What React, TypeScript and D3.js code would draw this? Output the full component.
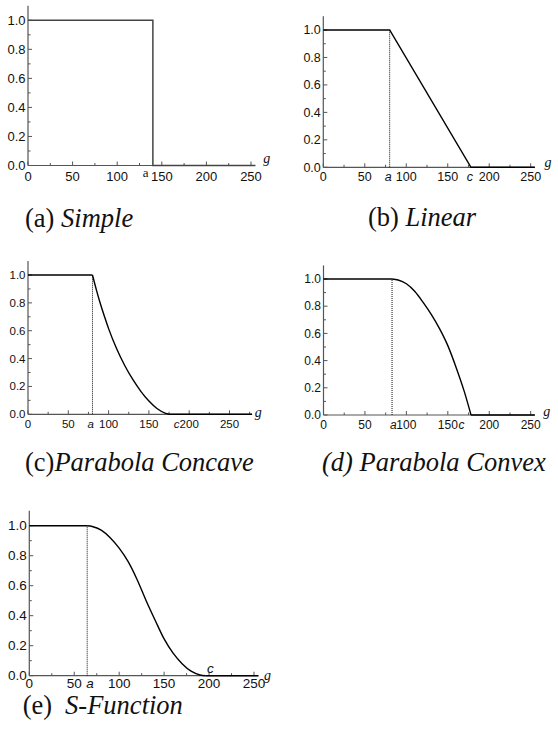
import React from "react";
import * as d3 from "d3";

// ---------- data ----------
const xTickValues = [0, 50, 100, 150, 200, 250];
const xMinorValues = [25, 75, 125, 175, 225, 275];
const yTickValues = [0, 0.2, 0.4, 0.6, 0.8, 1.0];
const yMinorValues = [0.1, 0.3, 0.5, 0.7, 0.9];

const captionLetters = ["(a)", "(b)", "(c)", "(d)", "(e)"];
const captionNames = ["Simple", "Linear", "Parabola Concave", "Parabola Convex", "S-Function"];

// (a) Simple
const simpleG = [0, 140, 140, 255];
const simpleMu = [1, 1, 0, 0];
// (b) Linear
const linearG = [0, 80, 178, 255];
const linearMu = [1, 1, 0, 0];
// (c) Parabola concave
const concaveG = [0, 80, 85, 90, 95, 100, 110, 120, 130, 140, 150, 160, 170, 175, 278];
const concaveMu = [1, 1, 0.89, 0.79, 0.7, 0.615, 0.47, 0.35, 0.25, 0.165, 0.095, 0.042, 0.009, 0, 0];
// (d) Parabola convex
const convexG = [0, 82.7, 90, 100, 110, 120, 130, 140, 150, 160, 170, 178, 255];
const convexMu = [1, 1, 0.993, 0.965, 0.91, 0.83, 0.74, 0.635, 0.51, 0.35, 0.17, 0, 0];
// (e) S-function
const sG = [0, 64.4, 70, 80, 90, 100, 110, 120, 130, 140, 150, 160, 170, 180, 190, 196, 255];
const sMu = [1, 1, 0.995, 0.97, 0.92, 0.85, 0.76, 0.64, 0.5, 0.37, 0.245, 0.15, 0.08, 0.03, 0.005, 0, 0];

// parameter a (dotted line) and label positions for the a / c marks on the g axis
const paramA = [140, 80, 80, 82.7, 64.4];
const labelA = [132, 78.4, 77.8, 84.3, 67.5];
const labelC = [null, 176.8, 184.5, 166.5, 201.6];

const seriesG = [simpleG, linearG, concaveG, convexG, sG];
const seriesMu = [simpleMu, linearMu, concaveMu, convexMu, sMu];

// ---------- layout ----------
const layouts = [
  { x0: 28, x250: 251, xMax: 254.5, y0: 165.5, y1: 20.3, fs: 13, lblOff: 15.5, gx: 266.7, gy: 163, capX: 25, capY: 227, dotted: false, curve: "linear", aSerif: true, cAbove: false },
  { x0: 323.3, x250: 530.7, xMax: 255, y0: 167.3, y1: 30, fs: 12.5, lblOff: 14, gx: 548, gy: 167, capX: 368, capY: 226, dotted: true, curve: "linear", aSerif: false, cAbove: false },
  { x0: 28, x250: 229.5, xMax: 278, y0: 414.3, y1: 275, fs: 11.5, lblOff: 13.2, gx: 258.3, gy: 417, capX: 25, capY: 471, dotted: true, curve: "smooth", aSerif: false, cAbove: false },
  { x0: 323.5, x250: 530.7, xMax: 255, y0: 415, y1: 279, fs: 12, lblOff: 14.2, gx: 546.7, gy: 416, capX: 322, capY: 471, dotted: true, curve: "smooth", aSerif: false, cAbove: false, capAllItalic: true },
  { x0: 29.3, x250: 254, xMax: 254.6, y0: 675.7, y1: 525.7, fs: 13.5, lblOff: 12.3, gx: 267.5, gy: 680, capX: 22.7, capY: 714, dotted: true, curve: "smooth", aSerif: false, cAbove: true, capDoubleSpace: true },
];

const SANS = "'Liberation Sans', Arial, Helvetica, sans-serif";
const SERIF = "'Liberation Serif', 'Times New Roman', Times, serif";
const AXIS = "#555";

function Panel({ i }: { i: number }) {
  const L = layouts[i];
  const x = d3.scaleLinear().domain([0, 250]).range([L.x0, L.x250]);
  const y = d3.scaleLinear().domain([0, 1]).range([L.y0, L.y1]);
  const G = seriesG[i];
  const M = seriesMu[i];
  const pts: [number, number][] = G.map((g, k) => [g, M[k]]);

  const paths: string[] = [];
  if (L.curve === "linear") {
    const line = d3.line<[number, number]>().x((d) => x(d[0])).y((d) => y(d[1]));
    paths.push(line(pts) as string);
  } else {
    const line = d3
      .line<[number, number]>()
      .x((d) => x(d[0]))
      .y((d) => y(d[1]))
      .curve(d3.curveMonotoneX);
    const first = pts.findIndex((d) => d[1] < 1) - 1;
    let last = -1;
    pts.forEach((d, k) => {
      if (d[1] > 0) last = k;
    });
    last = last + 1;
    paths.push(line(pts.slice(0, first + 1)) as string);
    paths.push(line(pts.slice(first, last + 1)) as string);
    paths.push(line(pts.slice(last)) as string);
  }

  const labelY = L.y0 + L.lblOff;
  const cap = captionLetters[i];
  const name = captionNames[i];
  const fs = L.fs;

  return (
    <g>
      {/* axes */}
      <line x1={x(0)} x2={x(0)} y1={y(0)} y2={y(1.1)} stroke={AXIS} strokeWidth={1.2} />
      <line x1={x(0)} x2={x(L.xMax)} y1={y(0)} y2={y(0)} stroke={AXIS} strokeWidth={1.2} />
      {/* x ticks */}
      {xTickValues.map((t) => (
        <line key={"xt" + t} x1={x(t)} x2={x(t)} y1={y(0)} y2={y(0) - 4} stroke={AXIS} strokeWidth={1} />
      ))}
      {xMinorValues
        .filter((t) => t <= L.xMax)
        .map((t) => (
          <line key={"xm" + t} x1={x(t)} x2={x(t)} y1={y(0)} y2={y(0) - 2.5} stroke={AXIS} strokeWidth={1} />
        ))}
      {/* y ticks */}
      {yTickValues.map((t) => (
        <line key={"yt" + t} x1={x(0)} x2={x(0) + 4} y1={y(t)} y2={y(t)} stroke={AXIS} strokeWidth={1} />
      ))}
      {yMinorValues.map((t) => (
        <line key={"ym" + t} x1={x(0)} x2={x(0) + 2.5} y1={y(t)} y2={y(t)} stroke={AXIS} strokeWidth={1} />
      ))}
      {/* y labels */}
      {yTickValues.map((t) => (
        <text key={"yl" + t} x={x(0) - 2.5} y={y(t) + fs * 0.35} textAnchor="end" fontFamily={SANS} fontSize={fs} fill="#111">
          {t.toFixed(1)}
        </text>
      ))}
      {/* x labels */}
      {xTickValues.map((t) => (
        <text key={"xl" + t} x={x(t)} y={labelY} textAnchor="middle" fontFamily={SANS} fontSize={fs} fill="#111">
          {String(t)}
        </text>
      ))}
      {/* a / c marks */}
      {L.aSerif ? (
        <text x={x(labelA[i])} y={labelY - 4} textAnchor="middle" fontFamily={SERIF} fontSize={13} fill="#111">
          a
        </text>
      ) : (
        <text x={x(labelA[i])} y={labelY} textAnchor="middle" fontFamily={SANS} fontStyle="italic" fontSize={fs} fill="#111">
          a
        </text>
      )}
      {labelC[i] != null && (
        <text
          x={x(labelC[i] as number)}
          y={L.cAbove ? L.y0 - 2.5 : labelY}
          textAnchor="middle"
          fontFamily={SANS}
          fontStyle="italic"
          fontSize={fs}
          fill="#111"
        >
          c
        </text>
      )}
      {/* g label */}
      <text x={L.gx} y={L.gy} textAnchor="middle" fontFamily={SERIF} fontStyle="italic" fontSize={14} fill="#111">
        g
      </text>
      {/* dotted line at a */}
      {L.dotted && (
        <line
          x1={x(paramA[i])}
          x2={x(paramA[i])}
          y1={y(0)}
          y2={y(1)}
          stroke="#111"
          strokeWidth={1}
          strokeDasharray="1,1"
        />
      )}
      {/* membership curve */}
      {paths.map((p, k) => (
        <path key={"p" + k} d={p} fill="none" stroke={i === 0 ? "#444" : "#000"} strokeWidth={i === 0 ? 1.5 : 1.4} />
      ))}
      {/* caption */}
      <text x={L.capX} y={L.capY} fontFamily={SERIF} fontSize={26.5} fill="#111">
        <tspan fontStyle={L.capAllItalic ? "italic" : "normal"}>{cap}</tspan>
        <tspan fontStyle="italic" dx={i === 2 ? 0 : L.capDoubleSpace ? 13 : 6.6}>
          {name}
        </tspan>
      </text>
    </g>
  );
}

export default function App() {
  return (
    <svg
      width={558}
      height={742}
      viewBox="0 0 558 742"
      style={{ position: "absolute", left: 0, top: 0, background: "#fff" }}
    >
      <rect x={0} y={0} width={558} height={742} fill="#fff" />
      {[0, 1, 2, 3, 4].map((i) => (
        <Panel key={i} i={i} />
      ))}
    </svg>
  );
}
